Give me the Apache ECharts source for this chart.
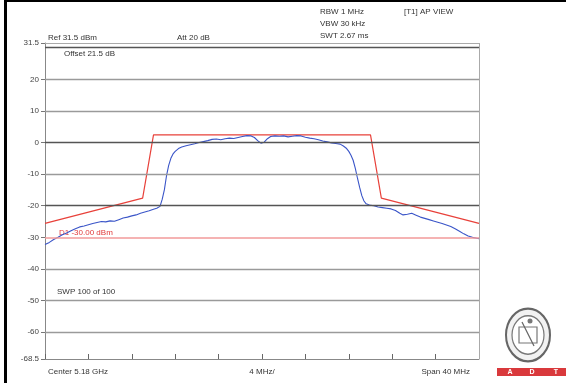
<!DOCTYPE html>
<html>
<head>
<meta charset="utf-8">
<script src="https://cdn.jsdelivr.net/npm/echarts@6/dist/echarts.min.js"></script>
<style>
html,body{margin:0;padding:0;background:#fff;}
#c{width:566px;height:383px;}
</style>
</head>
<body>
<div id="c"></div>
<script>
// ---- data ----
const yTickValues = [31.5, 20, 10, 0, -10, -20, -30, -40, -50, -60, -68.5];
const gridLevels = [20, 10, 0, -10, -20, -40, -50, -60];
const darkLevels = [0, -20];
const displayLine = -30;          // D1
const xRangeMHz = [-20, 20];      // center 5.18 GHz, span 40 MHz
const xStepMHz = 4;
const maskFreq = [-20, -11, -10, 10, 11, 20];
const maskDbm  = [-25.6, -17.6, 2.4, 2.4, -17.6, -25.6];
const traceFreq = [-20.0,-19.6,-19.2,-18.8,-18.4,-18.0,-17.6,-17.2,-16.8,-16.4,-16.0,-15.6,-15.2,-14.8,-14.4,-14.0,-13.6,-13.2,-12.8,-12.4,-12.0,-11.6,-11.2,-10.8,-10.4,-10.0,-9.7,-9.4,-9.2,-9.0,-8.8,-8.6,-8.4,-8.2,-8.0,-7.7,-7.4,-7.0,-6.6,-6.2,-5.8,-5.4,-5.0,-4.6,-4.2,-3.8,-3.4,-3.0,-2.6,-2.2,-1.8,-1.4,-1.0,-0.7,-0.4,-0.1,0.2,0.5,0.8,1.2,1.6,2.0,2.4,2.8,3.2,3.6,4.0,4.4,4.8,5.2,5.6,6.0,6.4,6.8,7.2,7.5,7.8,8.0,8.2,8.4,8.6,8.8,9.0,9.2,9.4,9.6,9.9,10.3,10.7,11.1,11.5,11.9,12.3,12.7,13.0,13.4,13.8,14.2,14.6,15.0,15.4,15.8,16.2,16.6,17.0,17.4,17.8,18.2,18.6,19.0,19.4,19.8,20.0];
const traceDbm = [-32.3,-31.6,-30.7,-30.0,-29.2,-28.6,-27.9,-27.3,-26.7,-26.4,-26.0,-25.6,-25.3,-25.0,-25.1,-24.8,-24.9,-24.4,-23.9,-23.6,-23.2,-22.9,-22.4,-22.0,-21.6,-21.1,-20.8,-20.2,-18.0,-15.0,-10.5,-7.2,-5.0,-3.6,-2.8,-1.9,-1.4,-1.0,-0.7,-0.4,0.0,0.3,0.6,1.0,1.1,0.9,1.2,1.4,1.3,1.6,1.9,2.2,2.1,1.6,0.6,-0.2,0.1,1.2,1.9,2.1,2.0,2.1,1.8,2.0,2.2,2.1,1.7,1.4,1.2,0.9,0.5,0.2,-0.1,-0.3,-0.5,-1.1,-1.9,-2.8,-4.0,-5.6,-8.2,-11.3,-14.2,-16.8,-18.5,-19.4,-19.8,-20.0,-20.4,-20.6,-20.8,-21.0,-21.5,-22.4,-22.9,-22.7,-22.4,-23.0,-23.6,-24.0,-24.4,-24.8,-25.2,-25.6,-26.1,-26.6,-27.3,-28.1,-28.9,-29.6,-30.0,-30.3,-30.4];
const headerLeft = ['Ref 31.5 dBm', 'Att 20 dB', 'Offset 21.5 dB'];
const headerRight = ['RBW 1 MHz', 'VBW 30 kHz', 'SWT 2.67 ms', '[T1] AP VIEW'];
const footer = ['Center 5.18 GHz', '4 MHz/', 'Span 40 MHz'];
const d1Label = 'D1 -30.00 dBm';
const swpLabel = 'SWP 100 of 100';

// ---- chart ----
const chart = echarts.init(document.getElementById('c'), null, {renderer: 'canvas'});
const FONT = 'Liberation Sans, Arial, sans-serif';
const txt = (x, y, s, extra) => ({
  type: 'text', x: x, y: y,
  style: Object.assign({text: s, fill: '#333', font: '8px ' + FONT, textVerticalAlign: 'middle'}, extra || {})
});

const gridMarks = gridLevels.map(v => ({
  yAxis: v,
  lineStyle: {color: darkLevels.includes(v) ? '#555' : '#9a9a9a', width: 1.3, type: 'solid'}
}));
gridMarks.push({yAxis: displayLine, lineStyle: {color: '#f29a9a', width: 1.6, type: 'solid'}});
gridMarks.push({yAxis: 30.1, lineStyle: {color: '#555', width: 1.3, type: 'solid'}});
gridMarks.push({yAxis: yTickValues[0], lineStyle: {color: '#aaa', width: 1, type: 'solid'}});
gridMarks.push({xAxis: xRangeMHz[1], lineStyle: {color: '#aaa', width: 1, type: 'solid'}});

const option = {
  animation: false,
  backgroundColor: '#fff',
  grid: {left: 45, right: 87, top: 43, bottom: 24, containLabel: false},
  xAxis: {
    type: 'value', min: xRangeMHz[0], max: xRangeMHz[1], interval: xStepMHz,
    axisLine: {show: true, onZero: false, lineStyle: {color: '#888', width: 1}},
    axisTick: {show: true, inside: true, length: 5, lineStyle: {color: '#666'}},
    axisLabel: {show: false},
    splitLine: {show: false}
  },
  yAxis: {
    type: 'value', min: yTickValues[yTickValues.length - 1], max: yTickValues[0],
    axisLine: {show: true, onZero: false, lineStyle: {color: '#888', width: 1}},
    axisTick: {show: true, length: 4, customValues: yTickValues, lineStyle: {color: '#777'}},
    axisLabel: {show: true, customValues: yTickValues, color: '#444', fontSize: 8, fontFamily: FONT, margin: 6},
    splitLine: {show: false}
  },
  series: [
    {
      type: 'line', data: [], silent: true,
      markLine: {silent: true, symbol: 'none', label: {show: false}, data: gridMarks}
    },
    {
      type: 'line', name: 'limit', showSymbol: false, silent: true,
      data: maskFreq.map((f, i) => [f, maskDbm[i]]),
      lineStyle: {color: '#e8413a', width: 1.2}, z: 3
    },
    {
      type: 'line', name: 'trace', showSymbol: false, silent: true,
      data: traceFreq.map((f, i) => [f, traceDbm[i]]),
      lineStyle: {color: '#3a55c8', width: 1.1}, z: 4
    }
  ],
  graphic: [
    {type: 'rect', shape: {x: 4, y: 0, width: 3, height: 383}, style: {fill: '#000'}},
    {type: 'rect', shape: {x: 4, y: 0, width: 562, height: 2}, style: {fill: '#000'}},
    txt(48, 38, headerLeft[0]),
    txt(177, 38, headerLeft[1]),
    txt(64, 54, headerLeft[2]),
    txt(320, 12, headerRight[0]),
    txt(320, 24, headerRight[1]),
    txt(320, 36, headerRight[2]),
    txt(404, 12, headerRight[3]),
    txt(59, 233, d1Label, {fill: '#e03a3a'}),
    txt(57, 292, swpLabel),
    txt(48, 372, footer[0]),
    txt(262, 372, footer[1], {textAlign: 'center'}),
    txt(470, 372, footer[2], {textAlign: 'right'}),
    {type: 'circle', x: 528, y: 335, scaleY: 1.2, shape: {cx: 0, cy: 0, r: 22}, style: {fill: '#f2f2f2', stroke: '#666', lineWidth: 2}},
    {type: 'circle', x: 528, y: 335, scaleY: 1.2, shape: {cx: 0, cy: 0, r: 16}, style: {fill: '#fff', stroke: '#777', lineWidth: 1.2}},
    {type: 'rect', shape: {x: 519, y: 327, width: 18, height: 16}, style: {fill: 'none', stroke: '#777', lineWidth: 1.2}},
    {type: 'line', shape: {x1: 522, y1: 322, x2: 534, y2: 346}, style: {stroke: '#666', lineWidth: 1.2}},
    {type: 'circle', shape: {cx: 530, cy: 321, r: 2.5}, style: {fill: '#777'}},
    {type: 'rect', shape: {x: 497, y: 368, width: 69, height: 8}, style: {fill: '#d9393c'}},
    txt(510, 372, 'A', {fill: '#fff', textAlign: 'center', font: 'bold 7px ' + FONT}),
    txt(532, 372, 'D', {fill: '#fff', textAlign: 'center', font: 'bold 7px ' + FONT}),
    txt(556, 372, 'T', {fill: '#fff', textAlign: 'center', font: 'bold 7px ' + FONT})
  ]
};
chart.setOption(option);
</script>
</body>
</html>
